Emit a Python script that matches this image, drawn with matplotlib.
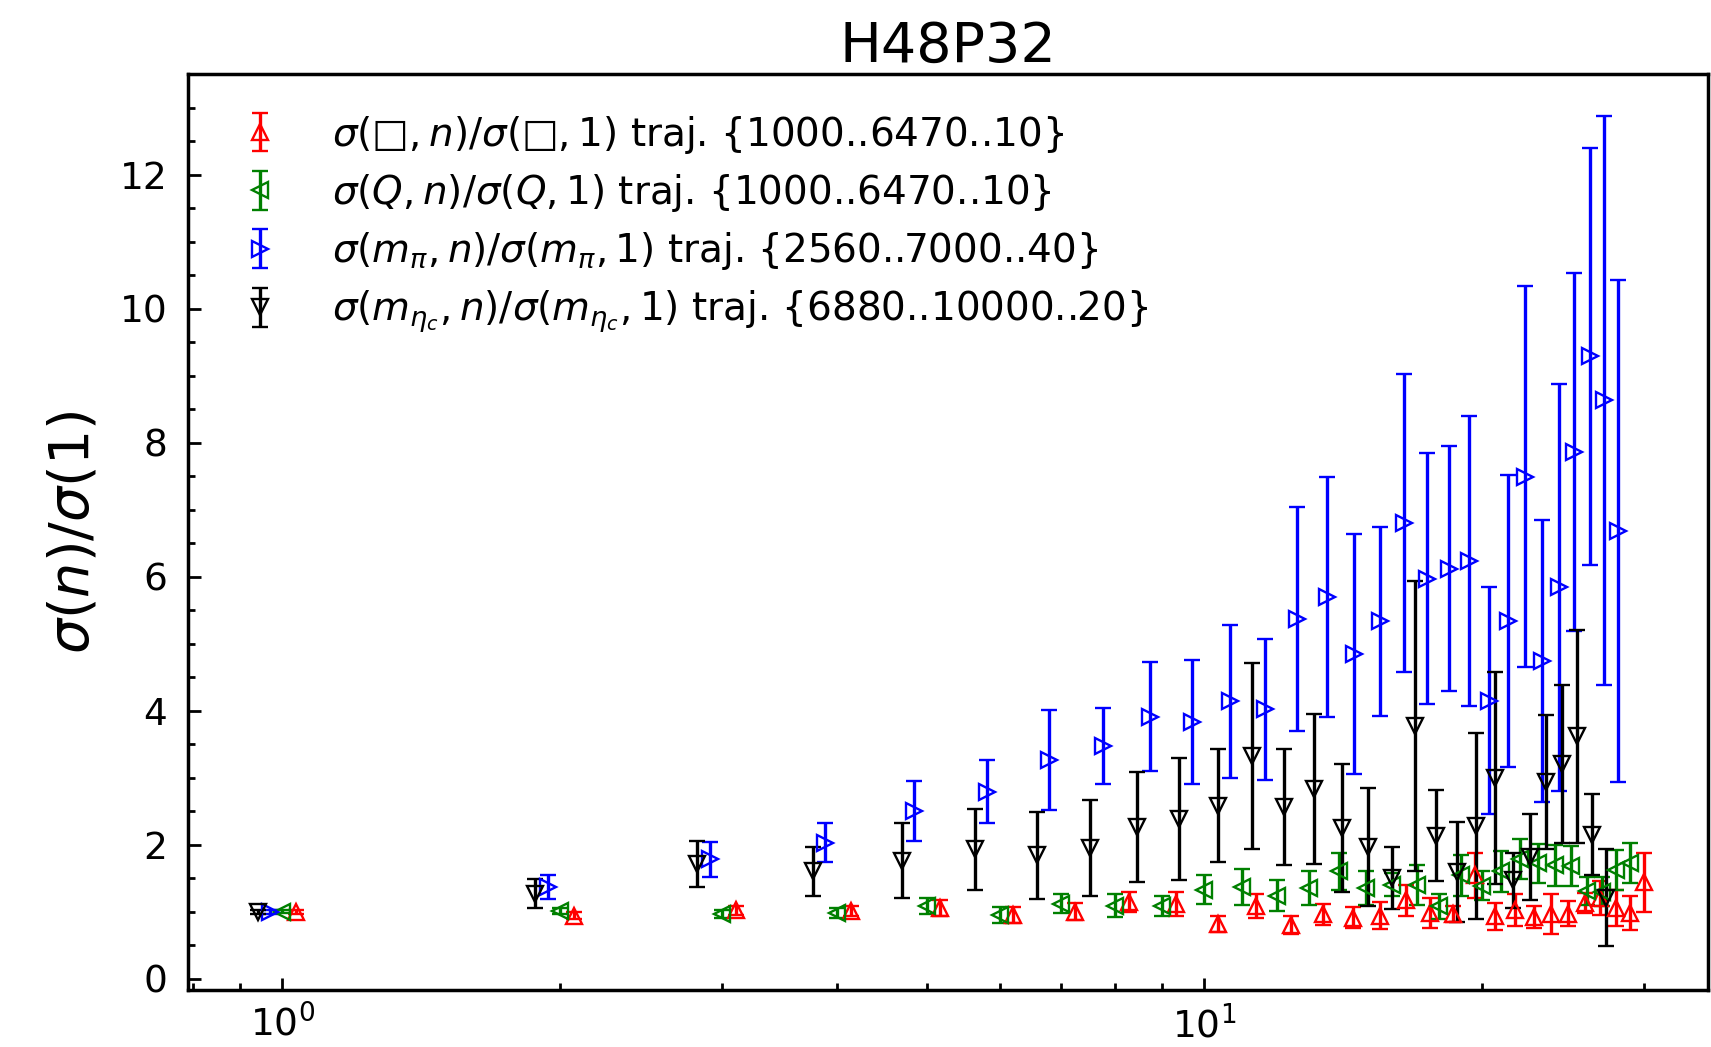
import matplotlib
matplotlib.use("Agg")
import matplotlib.pyplot as plt
from matplotlib.ticker import LogLocator, MultipleLocator, NullFormatter

n = list(range(1, 30))

plaq = [1.00, 0.94, 1.02, 1.01, 1.06, 0.95, 1.00, 1.14, 1.12, 0.82,
        1.09, 0.80, 0.96, 0.91, 0.94, 1.17, 0.98, 0.96, 1.54, 0.93,
        1.02, 0.92, 0.97, 0.97, 1.13, 1.20, 1.06, 0.98, 1.44]
plaq_err = [0.03, 0.05, 0.07, 0.08, 0.12, 0.12, 0.13, 0.15, 0.18, 0.12,
            0.18, 0.13, 0.16, 0.16, 0.20, 0.23, 0.22, 0.12, 0.34, 0.20,
            0.24, 0.16, 0.30, 0.19, 0.15, 0.25, 0.27, 0.25, 0.44]

topq = [1.00, 1.01, 0.97, 0.98, 1.08, 0.95, 1.12, 1.09, 1.08, 1.33,
        1.37, 1.24, 1.35, 1.60, 1.35, 1.40, 1.40, 1.08, 1.54, 1.39,
        1.60, 1.78, 1.72, 1.69, 1.68, 1.31, 1.30, 1.62, 1.72]
topq_err = [0.02, 0.04, 0.06, 0.08, 0.12, 0.12, 0.14, 0.17, 0.15, 0.22,
            0.27, 0.23, 0.25, 0.27, 0.25, 0.17, 0.30, 0.19, 0.30, 0.22,
            0.30, 0.30, 0.29, 0.31, 0.30, 0.21, 0.22, 0.30, 0.30]

mpi = [1.00, 1.37, 1.78, 2.03, 2.50, 2.79, 3.26, 3.47, 3.91, 3.83,
       4.14, 4.02, 5.37, 5.69, 4.85, 5.33, 6.80, 5.97, 6.12, 6.23,
       4.15, 5.34, 7.49, 4.74, 5.84, 7.86, 9.29, 8.63, 6.68]
mpi_err = [0.03, 0.18, 0.26, 0.29, 0.45, 0.47, 0.75, 0.57, 0.81, 0.92,
           1.14, 1.05, 1.67, 1.79, 1.79, 1.41, 2.22, 1.87, 1.83, 2.16,
           1.70, 2.18, 2.84, 2.10, 3.04, 2.67, 3.11, 4.25, 3.74]

metac = [1.00, 1.27, 1.71, 1.60, 1.76, 1.93, 1.84, 1.95, 2.26, 2.38,
         2.58, 3.32, 2.56, 2.83, 2.25, 1.97, 1.50, 3.77, 2.13, 1.59,
         2.28, 2.99, 1.47, 1.82, 2.93, 3.20, 3.62, 2.15, 1.21]
metac_err = [0.03, 0.21, 0.34, 0.36, 0.56, 0.60, 0.65, 0.71, 0.82, 0.91,
             0.84, 1.39, 0.87, 1.12, 0.95, 0.88, 0.46, 2.17, 0.68, 0.75,
             1.39, 1.58, 0.41, 0.64, 1.00, 1.18, 1.59, 0.60, 0.73]

labels = [
    r"$\sigma(\mathrm{□}, n)/\sigma(\mathrm{□}, 1)$ traj. {1000..6470..10}",
    r"$\sigma(Q, n)/\sigma(Q, 1)$ traj. {1000..6470..10}",
    r"$\sigma(m_{\pi}, n)/\sigma(m_{\pi}, 1)$ traj. {2560..7000..40}",
    r"$\sigma(m_{\eta_c}, n)/\sigma(m_{\eta_c}, 1)$ traj. {6880..10000..20}",
]

series = [
    (plaq, plaq_err, "r", "^", 1.035),
    (topq, topq_err, "g", "<", 1.0),
    (mpi, mpi_err, "b", ">", 0.97),
    (metac, metac_err, "k", "v", 0.94),
]

fig = plt.figure(figsize=(17.11, 10.47), dpi=100)
ax = fig.add_axes([0.1099, 0.0544, 0.8883, 0.8749])

for (vals, errs, col, mk, shift), lab in zip(series, labels):
    xs = [k * shift for k in n]
    ax.errorbar(xs, vals, yerr=errs, fmt=mk, color=col, mfc="none",
                mec=col, ms=11.5, mew=1.7, elinewidth=2.4, capsize=6,
                capthick=2.4, label=lab)

ax.set_xscale("log")
ax.set_xlim(0.79, 35.2)
ax.set_ylim(-0.17, 13.5)
ax.yaxis.set_major_locator(MultipleLocator(2))
ax.yaxis.set_minor_locator(MultipleLocator(0.5))
ax.xaxis.set_minor_locator(LogLocator(base=10, subs=range(2, 10)))
ax.xaxis.set_minor_formatter(NullFormatter())

ax.tick_params(which="both", direction="in", width=2, top=False, right=False)
ax.tick_params(which="major", length=9, labelsize=27)
ax.tick_params(axis="y", which="major", pad=15)
ax.tick_params(axis="x", which="major", pad=11)
ax.tick_params(which="minor", length=5)
for sp in ax.spines.values():
    sp.set_linewidth(2.5)

ax.set_title("H48P32", fontsize=40, pad=8)
ax.set_ylabel(r"$\sigma(n)/\sigma(1)$", fontsize=40, labelpad=14)

ax.legend(loc="upper left", frameon=False, fontsize=28,
          bbox_to_anchor=(-0.001, 0.995), handletextpad=0.85,
          labelspacing=0.42)

fig.savefig("out.png", dpi=100)
